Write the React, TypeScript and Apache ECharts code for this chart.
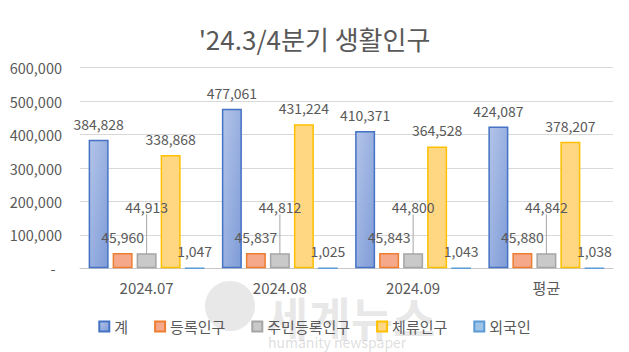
import React, { useEffect, useRef } from "react";
import * as echarts from "echarts";

const titleText = "'24.3/4분기 생활인구";
const categories = ["2024.07", "2024.08", "2024.09", "평균"];
const seriesNames = ["계", "등록인구", "주민등록인구", "체류인구", "외국인"];
const total = [384828, 477061, 410371, 424087];
const registered = [45960, 45837, 45843, 45880];
const residentRegistered = [44913, 44812, 44800, 44842];
const staying = [338868, 431224, 364528, 378207];
const foreigners = [1047, 1025, 1043, 1038];
const yTicks = { min: 0, max: 600000, interval: 100000 };

const FONT = "'Noto Sans CJK KR', 'Noto Sans', sans-serif";
const TEXT = "#595959";

const fmt = (v: number) => (v === 0 ? "-" : v.toLocaleString("en-US"));

export default function App() {
  const ref = useRef<HTMLDivElement>(null);
  useEffect(() => {
    if (!ref.current) return;
    const chart = echarts.init(ref.current, undefined, { renderer: "svg" });
    const styles = [
      { fill: new echarts.graphic.LinearGradient(0, 0, 1, 1, [
          { offset: 0, color: "#b3c4e8" },
          { offset: 1, color: "#7f9cd8" },
        ]), border: "#4472c4" },
      { fill: "#f6a98a", border: "#ed7d31" },
      { fill: "#c9c9c9", border: "#a5a5a5" },
      { fill: "#ffd783", border: "#ffc000" },
      { fill: "#9dc3e6", border: "#5b9bd5" },
    ];
    const datas = [total, registered, residentRegistered, staying, foreigners];
    const series: any[] = datas.map((d, i) => {
      const s: any = {
        name: seriesNames[i],
        type: "bar",
        data: d,
        barWidth: 20,
        barGap: "20%",
        barCategoryGap: "13%",
        itemStyle: { color: styles[i].fill, borderColor: styles[i].border, borderWidth: 1.5 },
        label: {
          show: true,
          position: "top",
          distance: 9,
          color: TEXT,
          fontSize: 14,
          fontFamily: FONT,
          formatter: (p: any) => fmt(p.value),
        },
      };
      if (i === 2) {
        s.labelLayout = { dy: -30 };
        s.labelLine = { show: true, lineStyle: { color: "#a6a6a6", width: 1 } };
      }
      return s;
    });
    chart.setOption({
      animation: false,
      title: {
        text: titleText,
        left: "center",
        top: 20,
        textStyle: { color: TEXT, fontSize: 26, fontWeight: "normal", fontFamily: FONT },
      },
      grid: { left: 80, right: 16, top: 67.7, bottom: 83.7, containLabel: false },
      legend: {
        top: 314,
        left: "center",
        itemWidth: 10,
        itemHeight: 10,
        itemGap: 26,
        icon: "rect",
        textStyle: { color: TEXT, fontSize: 15, fontFamily: FONT },
        data: seriesNames,
      },
      xAxis: {
        type: "category",
        data: categories,
        axisLine: { show: true, lineStyle: { color: "#c8c8c8" } },
        axisTick: { show: false },
        axisLabel: { color: TEXT, fontSize: 15, fontFamily: FONT, margin: 12 },
      },
      yAxis: {
        type: "value",
        min: yTicks.min,
        max: yTicks.max,
        interval: yTicks.interval,
        axisLine: { show: false },
        axisTick: { show: false },
        splitLine: { lineStyle: { color: "#d9d9d9" } },
        axisLabel: {
          color: TEXT,
          fontSize: 14.5,
          fontFamily: FONT,
          margin: 18,
          formatter: (v: number) => (v === 0 ? "-  " : fmt(v)),
        },
      },
      series,
      graphic: [
        {
          type: "group",
          silent: true,
          z: 100,
          children: [
            { type: "circle", shape: { cx: 230, cy: 306, r: 25 }, style: { fill: "rgba(150,150,150,0.22)" } },
            {
              type: "text",
              left: 266,
              top: 293,
              style: { text: "세계뉴스", fontSize: 46, fontWeight: "bold", fontFamily: FONT, fill: "rgba(150,150,150,0.22)" },
            },
            {
              type: "text",
              left: 268,
              top: 335,
              style: { text: "humanity newspaper", fontSize: 14, fontFamily: FONT, fill: "rgba(150,150,150,0.32)" },
            },
          ],
        },
      ],
    });
    return () => chart.dispose();
  }, []);
  return (
    <div
      ref={ref}
      style={{ position: "fixed", left: 0, top: 0, width: 629, height: 352, background: "#fff" }}
    />
  );
}
